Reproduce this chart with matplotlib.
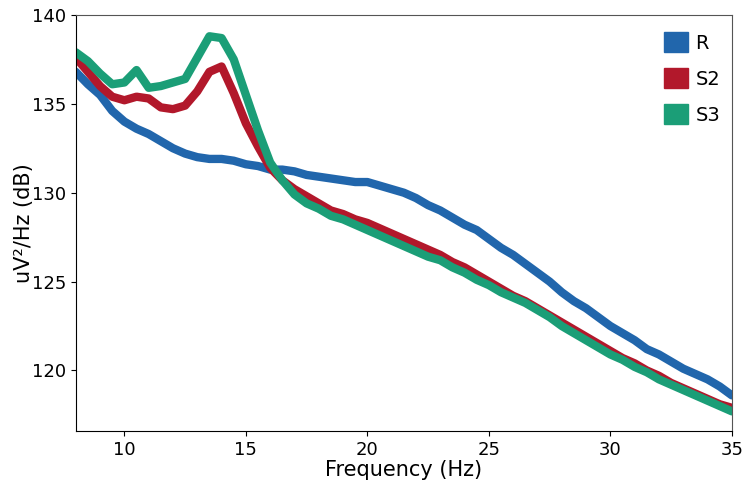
import numpy as np
import matplotlib
matplotlib.use("Agg")
import matplotlib.pyplot as plt
from matplotlib.patches import Patch

# frequency grid (Hz)
freqs = np.arange(8.0, 35.01, 0.5)

# power spectra (dB)
psd_r = [136.8, 136.1, 135.5, 134.6, 134.0, 133.6, 133.3, 132.9, 132.5, 132.2,
         132.0, 131.9, 131.9, 131.8, 131.6, 131.5, 131.3, 131.3, 131.2, 131.0,
         130.9, 130.8, 130.7, 130.6, 130.6, 130.4, 130.2, 130.0, 129.7, 129.3,
         129.0, 128.6, 128.2, 127.9, 127.4, 126.9, 126.5, 126.0, 125.5, 125.0,
         124.4, 123.9, 123.5, 123.0, 122.5, 122.1, 121.7, 121.2, 120.9, 120.5,
         120.1, 119.8, 119.5, 119.1, 118.6]
psd_s2 = [137.6, 136.8, 136.0, 135.4, 135.2, 135.4, 135.3, 134.8, 134.7, 134.9,
          135.7, 136.8, 137.1, 135.6, 133.9, 132.6, 131.4, 130.7, 130.2, 129.8,
          129.4, 129.0, 128.8, 128.5, 128.3, 128.0, 127.7, 127.4, 127.1, 126.8,
          126.5, 126.1, 125.8, 125.4, 125.0, 124.6, 124.2, 123.9, 123.5, 123.1,
          122.7, 122.3, 121.9, 121.5, 121.1, 120.7, 120.4, 120.0, 119.7, 119.3,
          119.0, 118.7, 118.4, 118.1, 117.9]
psd_s3 = [137.9, 137.4, 136.7, 136.1, 136.2, 136.9, 135.9, 136.0, 136.2, 136.4,
          137.6, 138.8, 138.7, 137.5, 135.5, 133.5, 131.7, 130.7, 129.9, 129.4,
          129.1, 128.7, 128.5, 128.2, 127.9, 127.6, 127.3, 127.0, 126.7, 126.4,
          126.2, 125.8, 125.5, 125.1, 124.8, 124.4, 124.1, 123.8, 123.4, 123.0,
          122.5, 122.1, 121.7, 121.3, 120.9, 120.6, 120.2, 119.9, 119.5, 119.2,
          118.9, 118.6, 118.3, 118.0, 117.7]

labels = ["R", "S2", "S3"]
colors = ["#2166ac", "#b2182b", "#1b9e77"]

fig = plt.figure(figsize=(7.43, 4.82), dpi=100)
ax = fig.add_axes([0.102, 0.106, 0.883, 0.863])

for psd, col in zip([psd_r, psd_s2, psd_s3], colors):
    ax.plot(freqs, psd, color=col, lw=6, solid_capstyle="round")

ax.set_xlim(8, 35)
ax.set_ylim(116.6, 140)
ax.set_yticks([120, 125, 130, 135, 140])
ax.tick_params(labelsize=13)
ax.set_xlabel("Frequency (Hz)", fontsize=15, labelpad=1)
ax.set_ylabel("uV²/Hz (dB)", fontsize=15, labelpad=-2)
ax.spines["top"].set_color("#555555")
ax.spines["right"].set_color("#555555")

handles = [Patch(color=c, label=l) for c, l in zip(colors, labels)]
ax.legend(handles=handles, loc="upper right", bbox_to_anchor=(1.012, 1.005),
          frameon=False, fontsize=14, handlelength=1.2, handleheight=1.2,
          labelspacing=0.8, handletextpad=0.4, borderaxespad=0.6)

fig.savefig("out.png", dpi=100)
